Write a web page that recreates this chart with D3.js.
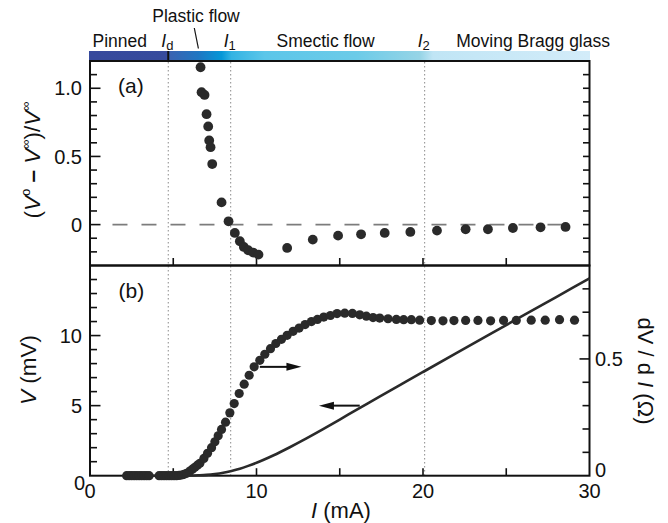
<!DOCTYPE html>
<html>
<head>
<meta charset="utf-8">
<script src="https://cdn.jsdelivr.net/npm/d3@7"></script>
<style>
  html, body { margin: 0; padding: 0; background: #fff; }
  svg { display: block; font-family: "Liberation Sans", Arial, Helvetica, sans-serif; }
</style>
</head>
<body>
<svg id="chart" width="668" height="523"></svg>
<script>
// ---------- data ----------
const xTicks = [0, 10, 20, 30];
const aTicks = [0, 0.5, 1.0];
const aTickLabels = ["0", "0.5", "1.0"];
const bLeftTicks = [0, 5, 10];
const bRightTicks = [0, 0.5];
const bRightTickLabels = ["0", "0.5"];

// threshold currents (mA)
const thresholds = [4.7, 8.45, 20.1];
const thresholdNames = ["d", "1", "2"];

// panel (a): (V° - V∞)/V∞ versus I
const aI = [6.64, 6.70, 6.88, 7.00, 7.10, 7.16, 7.24, 7.34, 7.90, 8.32, 8.70, 9.00, 9.24, 9.50, 9.80, 10.12,
            11.84, 13.38, 14.90, 16.28, 17.70, 19.24, 20.84, 22.56, 23.90, 25.40, 27.06, 28.56];
const aV = [1.154, 0.971, 0.951, 0.810, 0.720, 0.617, 0.568, 0.444, 0.163, 0.024, -0.061, -0.122, -0.164, -0.188, -0.205, -0.220,
            -0.171, -0.110, -0.081, -0.071, -0.061, -0.054, -0.044, -0.034, -0.034, -0.025, -0.020, -0.017];

// panel (b): dV/dI (Ω) versus I
const dI = [2.2, 2.35, 2.5, 2.65, 2.8, 2.95, 3.1, 3.25, 3.4, 3.55,
            4.15, 4.3, 4.45, 4.6, 4.75, 4.9, 5.05, 5.2, 5.35, 5.5, 5.65, 5.8, 6.0, 6.15, 6.3, 6.45, 6.6,
            6.84, 7.06, 7.3, 7.5, 7.7, 7.9, 8.14, 8.4, 8.66, 8.96, 9.26, 9.56, 9.86, 10.2, 10.5, 10.84,
            11.16, 11.5, 11.84, 12.2, 12.56, 12.92, 13.3, 13.66, 14.04, 14.44, 14.84, 15.3, 15.76, 16.2,
            16.6, 17.0, 17.4, 17.9, 18.4, 18.84, 19.3, 19.8, 20.5, 21.2, 21.86, 22.56, 23.3, 24.06,
            24.84, 25.6, 26.5, 27.34, 28.2, 29.1];
const dR = [0, 0, 0, 0, 0, 0, 0, 0, 0, 0,
            0, 0, 0, 0, 0, 0, 0, 0, 0.001, 0.003, 0.006, 0.010, 0.020, 0.028, 0.036, 0.045, 0.053,
            0.074, 0.096, 0.120, 0.145, 0.171, 0.198, 0.229, 0.269, 0.309, 0.352, 0.392, 0.430, 0.466, 0.494, 0.520, 0.544,
            0.566, 0.584, 0.601, 0.618, 0.632, 0.647, 0.660, 0.669, 0.679, 0.686, 0.694, 0.696, 0.695, 0.689,
            0.683, 0.677, 0.675, 0.672, 0.669, 0.668, 0.668, 0.666, 0.664, 0.663, 0.664, 0.665, 0.665, 0.663,
            0.665, 0.665, 0.666, 0.666, 0.668, 0.666];

// panel (b): V (mV) versus I  (solid line)
const vI = [2, 4, 5, 5.5, 6, 6.5, 7, 7.5, 8, 8.5, 9, 9.5, 10, 10.5, 11, 12, 13, 14, 15, 16, 17, 18, 19, 20, 22, 24, 26, 28, 30];
const vV = [0, 0, 0, 0.002, 0.01, 0.03, 0.06, 0.12, 0.21, 0.34, 0.50, 0.70, 0.92, 1.17, 1.44, 2.03, 2.66, 3.32, 4.00, 4.70, 5.38, 6.06, 6.73, 7.40, 8.74, 10.08, 11.42, 12.75, 14.08];

// regime bar
const regimeLabels = ["Pinned", "Smectic flow", "Moving Bragg glass"];
const regimeLabelI = [0.15, 11.2, 22.0];

// ---------- layout ----------
const svg = d3.select("#chart");
const X0 = 90, X1 = 589.5;
const aTop = 61, aBot = 265.5, bTop = 265.5, bBot = 475.7;
const ink = "#2a2a2a";

const x = d3.scaleLinear().domain([0, 30]).range([X0, X1]);
const ya = d3.scaleLinear().domain([-0.3, 1.2]).range([aBot, aTop]);
const ybL = d3.scaleLinear().domain([0, 15]).range([bBot, bTop]);
const ybR = d3.scaleLinear().domain([0, 0.9]).range([bBot, bTop]);

// ---------- regime colour bar ----------
const defs = svg.append("defs");
const grad = defs.append("linearGradient").attr("id", "regime")
  .attr("gradientUnits", "userSpaceOnUse").attr("x1", X0).attr("x2", X1).attr("y1", 0).attr("y2", 0);
const gStops = [
  [0, "#36499c"], [4.7, "#374b9d"], [4.71, "#3b62b1"], [6.5, "#1f76c2"], [7.9, "#0597d7"],
  [8.5, "#33b3e3"], [10.5, "#5cc6e9"], [16, "#6ccbe8"], [19.8, "#96d4e6"], [20.6, "#c0e5f5"], [30, "#d3ecf9"]
];
gStops.forEach(s => grad.append("stop").attr("offset", (x(s[0]) - X0) / (X1 - X0)).attr("stop-color", s[1]));
svg.append("rect").attr("x", X0 - 1).attr("y", 51).attr("width", X1 - X0 + 1.5).attr("height", 10)
  .attr("fill", "url(#regime)");
svg.append("line").attr("x1", x(thresholds[0])).attr("x2", x(thresholds[0]))
  .attr("y1", 51).attr("y2", 61).attr("stroke", "#111").attr("stroke-width", 2);

// top labels
svg.selectAll("text.regime").data(regimeLabels).join("text").attr("class", "regime")
  .attr("x", (d, i) => x(regimeLabelI[i])).attr("y", 46.5)
  .attr("font-size", 17.5).attr("fill", "#111").text(d => d);
thresholds.forEach((t, i) => {
  const tx = svg.append("text").attr("x", x(t) - 7).attr("y", 46.5).attr("font-size", 17.5).attr("fill", "#111");
  tx.append("tspan").attr("font-style", "italic").text("I");
  tx.append("tspan").attr("font-size", 13).attr("dy", 3).text(thresholdNames[i]);
});
svg.append("text").attr("x", 196).attr("y", 21.5).attr("text-anchor", "middle")
  .attr("font-size", 17.5).attr("fill", "#111").text("Plastic flow");
svg.append("line").attr("x1", 194.3).attr("y1", 28).attr("x2", 198.4).attr("y2", 48.5)
  .attr("stroke", "#111").attr("stroke-width", 1.2);

// ---------- threshold dotted lines ----------
svg.selectAll("line.thr").data(thresholds).join("line").attr("class", "thr")
  .attr("x1", d => x(d)).attr("x2", d => x(d)).attr("y1", aTop + 1).attr("y2", bBot - 1)
  .attr("stroke", "#8a8a8a").attr("stroke-width", 1).attr("stroke-dasharray", "1.5,2.5");

// ---------- panel (a) ----------
svg.append("line").attr("x1", x(1.35)).attr("x2", x(28.8)).attr("y1", ya(0)).attr("y2", ya(0))
  .attr("stroke", "#7c7c7c").attr("stroke-width", 1.8).attr("stroke-dasharray", "15,14");

function ticks(g, scale, values, len, orient, px) {
  values.forEach(v => {
    const p = scale(v);
    if (orient === "left") g.append("line").attr("x1", px).attr("x2", px + len).attr("y1", p).attr("y2", p);
    if (orient === "right") g.append("line").attr("x1", px).attr("x2", px - len).attr("y1", p).attr("y2", p);
    if (orient === "bottom") g.append("line").attr("x1", p).attr("x2", p).attr("y1", px).attr("y2", px - len);
  });
}
const tg = svg.append("g").attr("stroke", "#111").attr("stroke-width", 1.6);
const aMinor = d3.range(-2, 12).map(k => k / 10).filter(v => ![0, 0.5, 1].some(m => Math.abs(m - v) < 1e-6));
ticks(tg, ya, aMinor, 7, "left", X0);
ticks(tg, ya, aTicks, 10.5, "left", X0);
ticks(tg, ya, d3.range(-2, 12).map(k => k / 10), 6.5, "right", X1);
ticks(tg, x, [5, 10, 15, 20, 25], 7.5, "bottom", aBot);

// panel (b) ticks
const bMinorL = d3.range(1, 15).filter(v => v % 5 !== 0);
ticks(tg, ybL, bMinorL, 7, "left", X0);
ticks(tg, ybL, [5, 10], 10.5, "left", X0);
ticks(tg, ybR, [0.1, 0.2, 0.3, 0.4, 0.6, 0.7, 0.8], 7, "right", X1);
ticks(tg, ybR, [0.5], 10, "right", X1);
ticks(tg, x, [5, 10, 15, 20, 25], 7.5, "bottom", bBot);

// frames
svg.append("rect").attr("x", X0).attr("y", aTop).attr("width", X1 - X0).attr("height", aBot - aTop)
  .attr("fill", "none").attr("stroke", "#111").attr("stroke-width", 2);
svg.append("rect").attr("x", X0).attr("y", bTop).attr("width", X1 - X0).attr("height", bBot - bTop)
  .attr("fill", "none").attr("stroke", "#111").attr("stroke-width", 2);

// panel (a) dots
svg.append("g").selectAll("circle").data(aI).join("circle")
  .attr("cx", d => x(d)).attr("cy", (d, i) => ya(aV[i])).attr("r", 4.9).attr("fill", ink);

// panel (b) V line
const vLine = d3.line().x(d => x(d[0])).y(d => ybL(d[1])).curve(d3.curveMonotoneX);
svg.append("path").datum(vI.map((d, i) => [d, vV[i]])).attr("d", vLine)
  .attr("fill", "none").attr("stroke", ink).attr("stroke-width", 2.6);

// panel (b) dV/dI dots
svg.append("g").selectAll("circle").data(dI).join("circle")
  .attr("cx", d => x(d)).attr("cy", (d, i) => ybR(dR[i])).attr("r", 4.6).attr("fill", ink);

// arrows
function arrow(xFrom, xTo, yPix) {
  const dir = Math.sign(xTo - xFrom);
  svg.append("line").attr("x1", xFrom).attr("x2", xTo - dir * 12).attr("y1", yPix).attr("y2", yPix)
    .attr("stroke", "#111").attr("stroke-width", 2);
  svg.append("path").attr("d", `M${xTo},${yPix} L${xTo - dir * 15},${yPix - 4} L${xTo - dir * 15},${yPix + 4} Z`)
    .attr("fill", "#111");
}
arrow(x(10.2), x(12.7), ybR(0.466));
arrow(x(16.2), x(13.75), ybL(5.0));

// ---------- tick labels ----------
const lab = svg.append("g").attr("font-size", 20).attr("fill", "#111");
aTicks.forEach((v, i) => lab.append("text").attr("x", 82).attr("y", ya(v)).attr("dy", "0.36em")
  .attr("text-anchor", "end").text(aTickLabels[i]));
bLeftTicks.forEach(v => lab.append("text").attr("x", v === 0 ? 85 : 82).attr("y", ybL(v) + (v === 0 ? 7 : 0))
  .attr("dy", "0.36em").attr("text-anchor", "end").text(v));
bRightTicks.forEach((v, i) => lab.append("text").attr("x", 595).attr("y", ybR(v) + (v === 0 ? -5.5 : 0))
  .attr("dy", "0.36em").attr("text-anchor", "start").text(bRightTickLabels[i]));
xTicks.forEach(v => lab.append("text").attr("x", x(v)).attr("y", 497.5)
  .attr("text-anchor", "middle").text(v));

// panel labels
svg.append("text").attr("x", 118).attr("y", 92.5).attr("font-size", 21).attr("fill", "#111").text("(a)");
svg.append("text").attr("x", 118.5).attr("y", 297.5).attr("font-size", 21).attr("fill", "#111").text("(b)");

// ---------- axis titles ----------
const xt = svg.append("text").attr("x", 341).attr("y", 518).attr("text-anchor", "middle")
  .attr("font-size", 22).attr("fill", "#111");
xt.append("tspan").attr("font-style", "italic").text("I");
xt.append("tspan").text(" (mA)");

const yb = svg.append("text").attr("transform", "translate(36,370) rotate(-90)").attr("text-anchor", "middle")
  .attr("font-size", 22.5).attr("fill", "#111");
yb.append("tspan").attr("font-style", "italic").text("V");
yb.append("tspan").text(" (mV)");

const ya_t = svg.append("text").attr("transform", "translate(40,160) rotate(-90)").attr("text-anchor", "middle")
  .attr("font-size", 22.5).attr("fill", "#111");
ya_t.append("tspan").text("(");
ya_t.append("tspan").attr("font-style", "italic").text("V");
ya_t.append("tspan").attr("font-size", 13).attr("dy", -10).text("o");
ya_t.append("tspan").attr("dy", 10).attr("font-weight", "bold").text(" \u2013 ");
ya_t.append("tspan").attr("font-style", "italic").text("V");
ya_t.append("tspan").attr("font-size", 13).attr("dy", -10).text("\u221E");
ya_t.append("tspan").attr("dy", 10).text(")/");
ya_t.append("tspan").attr("font-style", "italic").text("V");
ya_t.append("tspan").attr("font-size", 13).attr("dy", -10).text("\u221E");

const yr = svg.append("text").attr("transform", "translate(638,371) rotate(90)").attr("text-anchor", "middle")
  .attr("font-size", 22).attr("fill", "#111");
yr.append("tspan").text("dV / d ");
yr.append("tspan").attr("font-style", "italic").text("I");
yr.append("tspan").text(" (\u03A9)");
</script>
</body>
</html>
